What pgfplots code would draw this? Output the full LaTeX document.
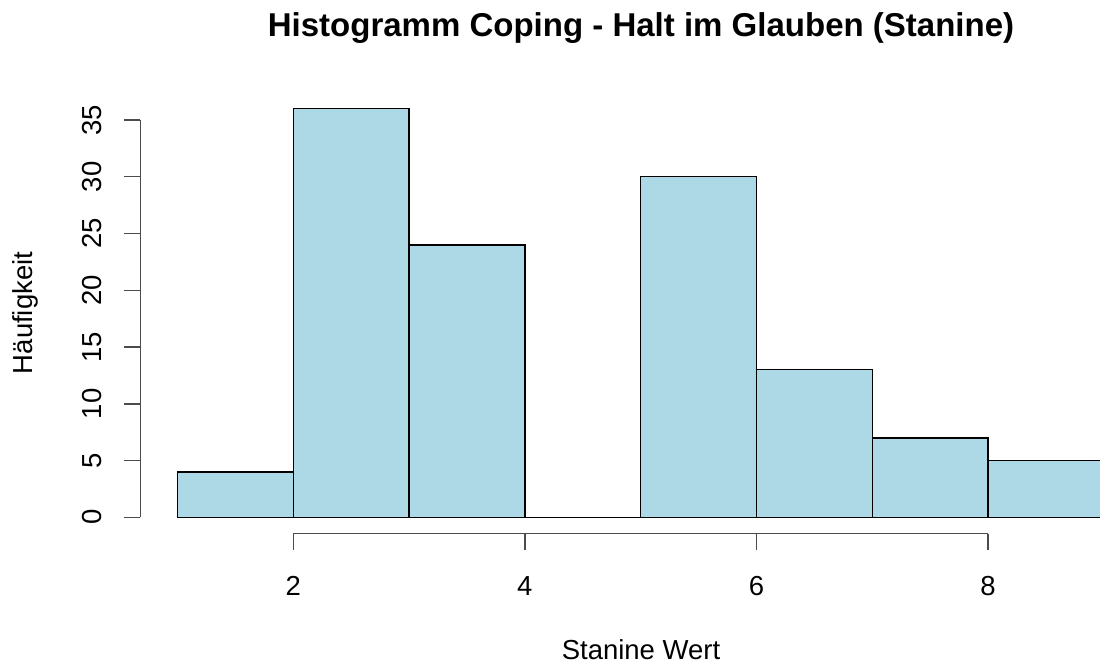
\documentclass[border=0pt]{standalone}
\usepackage{fontspec}
\setmainfont{Liberation Sans}
\usepackage{pgfplots}
\pgfplotsset{compat=1.18}
\definecolor{lightblue}{HTML}{ADD8E6}
\begin{document}
\begin{tikzpicture}
\begin{axis}[x=57.9pt, y=5.675pt, xmin=0.68, xmax=8.966, ymin=-1.44, ymax=37.44,
  hide axis, clip mode=individual]
\addplot[ybar interval, fill=lightblue, draw=black, line width=0.7pt]
  coordinates {(1,4) (2,36) (3,24) (4,0) (5,30) (6,13) (7,7) (8,5) (9,5)};
\coordinate (O) at (axis cs:1,0);
% x axis (R style, offset)
\draw[black!70, line width=0.7pt] (axis cs:2,-1.44) -- (axis cs:8,-1.44);
\pgfplotsinvokeforeach{2,4,6,8}{
  \draw[black!70, line width=0.7pt] (axis cs:#1,-1.44) -- ([yshift=-8.3pt]axis cs:#1,-1.44);
  \node[anchor=base, font=\fontsize{13.75pt}{16pt}\selectfont, inner sep=0pt] at ([yshift=-38.85pt]axis cs:#1,0) {#1};
}
% y axis
\draw[black!70, line width=0.7pt] (axis cs:0.68,0) -- (axis cs:0.68,35);
\pgfplotsinvokeforeach{0,5,10,15,20,25,30,35}{
  \draw[black!70, line width=0.7pt] (axis cs:0.68,#1) -- ([xshift=-8.3pt]axis cs:0.68,#1);
  \node[anchor=base, rotate=90, font=\fontsize{13.75pt}{16pt}\selectfont, inner sep=0pt] at ([xshift=-38pt]axis cs:1,#1) {#1};
}
\end{axis}
\node[anchor=base, font=\fontsize{16.5pt}{19pt}\selectfont\bfseries, inner sep=0pt] at ([xshift=231.75pt, yshift=240.15pt]O) {Histogramm Coping - Halt im Glauben (Stanine)};
\node[anchor=base, font=\fontsize{13.75pt}{16pt}\selectfont, inner sep=0pt] at ([xshift=231.75pt, yshift=-70.85pt]O) {Stanine Wert};
\node[anchor=base, rotate=90, font=\fontsize{13.75pt}{16pt}\selectfont, inner sep=0pt] at ([xshift=-72.25pt, yshift=102.15pt]O) {Häufigkeit};
\pgfresetboundingbox
\path[use as bounding box] ([xshift=-88.75pt,yshift=-74.35pt]O) rectangle ([xshift=461.25pt,yshift=258.65pt]O);
\end{tikzpicture}
\end{document}
